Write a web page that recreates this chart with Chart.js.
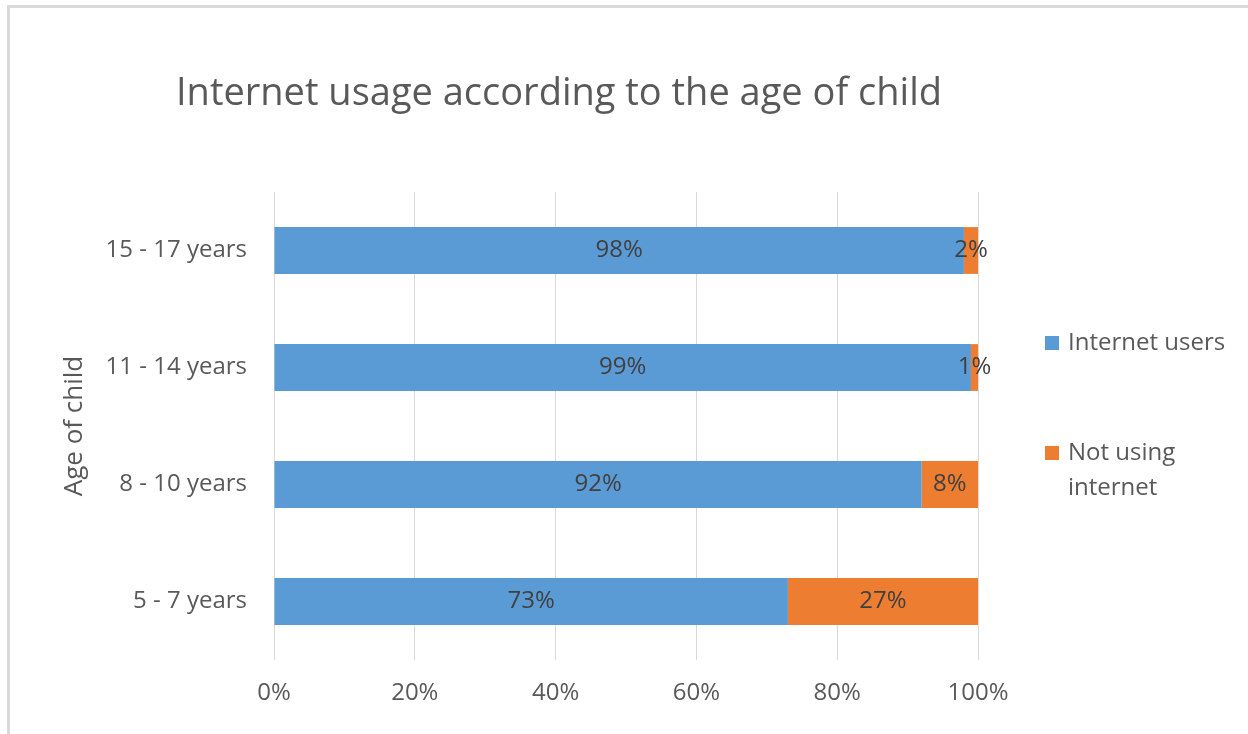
<!DOCTYPE html>
<html>
<head>
<meta charset="utf-8">
<title>Internet usage according to the age of child</title>
<script src="https://cdn.jsdelivr.net/npm/chart.js@4/dist/chart.umd.min.js"></script>
<style>
  html, body { margin: 0; padding: 0; background: #ffffff; }
  #wrap { position: relative; width: 1248px; height: 734px; }
  canvas { display: block; }
</style>
</head>
<body>
<div id="wrap"><canvas id="chart" width="1248" height="734"></canvas></div>
<script>
// Age groups, listed top to bottom
const categories = ['15 - 17 years', '11 - 14 years', '8 - 10 years', '5 - 7 years'];
// Share of children in each group (percent)
const internetUsers = [98, 99, 92, 73];
const notUsingInternet = [2, 1, 8, 27];
// Value axis ticks (percent)
const xTicks = [0, 20, 40, 60, 80, 100];

const chartTitle = 'Internet usage according to the age of child';
const yAxisTitle = 'Age of child';
const seriesNames = ['Internet users', 'Not using internet'];

const FONT = '"Open Sans", "Noto Sans", sans-serif';
const BLUE = '#5B9BD5';
const ORANGE = '#ED7D31';

// Frame, title, axis title, segment labels and the wrapped side legend
const decorations = {
  id: 'decorations',
  beforeDraw(chart) {
    const ctx = chart.ctx;
    ctx.save();
    ctx.fillStyle = '#ffffff';
    ctx.fillRect(0, 0, chart.width, chart.height);
    ctx.fillStyle = '#d9d9d9';
    ctx.fillRect(7, 5, chart.width - 7, 3);
    ctx.fillRect(7, 5, 3, chart.height - 5);
    ctx.restore();
  },
  afterDraw(chart, args, opts) {
    const ctx = chart.ctx;
    ctx.save();

    // Chart title
    ctx.fillStyle = '#595959';
    ctx.textAlign = 'center';
    ctx.textBaseline = 'middle';
    ctx.font = '400 38px ' + FONT;
    ctx.fillText(chartTitle, opts.titleX, opts.titleY);

    // Vertical axis title
    ctx.save();
    ctx.translate(opts.yTitleX, (chart.chartArea.top + chart.chartArea.bottom) / 2);
    ctx.rotate(-Math.PI / 2);
    ctx.font = '400 26px ' + FONT;
    ctx.fillText(yAxisTitle, 0, 0);
    ctx.restore();

    // Legend with word wrap
    ctx.textAlign = 'left';
    ctx.font = '400 24px ' + FONT;
    chart.data.datasets.forEach((ds, i) => {
      const item = opts.legendItems[i];
      const words = ds.label.split(' ');
      const lines = [];
      let line = '';
      words.forEach(w => {
        const test = line ? line + ' ' + w : w;
        if (line && ctx.measureText(test).width > opts.legendMaxWidth) {
          lines.push(line);
          line = w;
        } else {
          line = test;
        }
      });
      if (line) lines.push(line);
      ctx.fillStyle = ds.backgroundColor;
      ctx.fillRect(opts.legendX, item - 7, 14, 14);
      ctx.fillStyle = '#595959';
      lines.forEach((l, k) => {
        ctx.fillText(l, opts.legendX + 23, item + k * opts.legendLineHeight);
      });
    });
    ctx.restore();
  },
  afterDatasetsDraw(chart) {
    const ctx = chart.ctx;
    ctx.save();
    ctx.fillStyle = '#404040';
    ctx.font = '400 24px ' + FONT;
    ctx.textAlign = 'center';
    ctx.textBaseline = 'middle';
    chart.data.datasets.forEach((ds, i) => {
      const meta = chart.getDatasetMeta(i);
      meta.data.forEach((bar, j) => {
        const cx = (bar.x + bar.base) / 2;
        ctx.fillText(ds.data[j] + '%', cx, bar.y);
      });
    });
    ctx.restore();
  }
};

new Chart(document.getElementById('chart'), {
  type: 'bar',
  data: {
    labels: categories,
    datasets: [
      {
        label: seriesNames[0],
        data: internetUsers,
        backgroundColor: BLUE,
        borderWidth: 0
      },
      {
        label: seriesNames[1],
        data: notUsingInternet,
        backgroundColor: ORANGE,
        borderWidth: 0
      }
    ]
  },
  options: {
    indexAxis: 'y',
    responsive: false,
    animation: false,
    layout: { padding: { left: 0, top: 192, right: 270, bottom: 0 } },
    datasets: {
      bar: { categoryPercentage: 1.0, barPercentage: 0.4 }
    },
    scales: {
      x: {
        stacked: true,
        min: 0,
        max: 100,
        afterBuildTicks(scale) {
          scale.ticks = xTicks.map(v => ({ value: v }));
        },
        afterFit(scale) { scale.height = 74; },
        grid: { color: '#d9d9d9', lineWidth: 1, drawTicks: false },
        border: { display: false },
        ticks: {
          padding: 19,
          color: '#595959',
          font: { family: FONT, size: 24 },
          callback: v => v + '%'
        }
      },
      y: {
        stacked: true,
        afterFit(scale) { scale.width = 274; },
        grid: { display: false, drawTicks: false },
        border: { display: false },
        ticks: {
          padding: 27,
          color: '#595959',
          font: { family: FONT, size: 24 }
        }
      }
    },
    plugins: {
      legend: { display: false },
      title: { display: false },
      tooltip: { enabled: false },
      decorations: {
        titleX: 559,
        titleY: 94,
        yTitleX: 75,
        legendX: 1045,
        legendItems: [343, 453],
        legendLineHeight: 35,
        legendMaxWidth: 175
      }
    }
  },
  plugins: [decorations]
});
</script>
</body>
</html>
